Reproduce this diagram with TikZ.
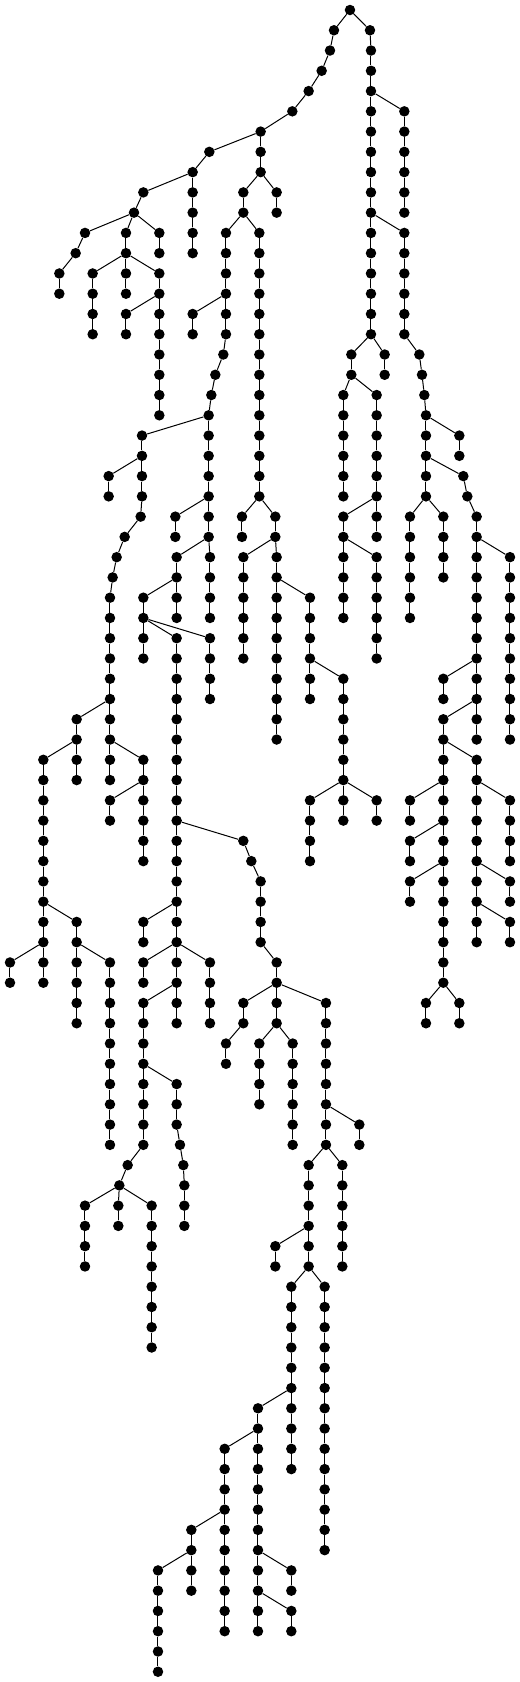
\documentclass[tikz,border=0pt]{standalone}
\tikzset{
  dot/.style={circle,fill=black,draw=none,inner sep=0pt,minimum size=10.5pt},
  edge/.style={line width=1pt,black}
}
\newcommand\mkchain[3]{%
  \foreach \k in {#2,...,#3}{\node[dot] (n#1-\k) at (#1,\k) {};}%
  \ifnum#2<#3\relax
    \pgfmathtruncatemacro\chainend{#3-1}%
    \foreach \k in {#2,...,\chainend}{\pgfmathtruncatemacro\kn{\k+1}\draw[edge] (n#1-\k) -- (n#1-\kn);}%
  \fi}
\newcommand\mksub[4]{%
  \mkchain{#2}{#3}{#4}%
  \pgfmathtruncatemacro\subpl{#3-1}%
  \draw[edge] (n#1-\subpl) -- (n#2-#3);}
\begin{document}
\begin{tikzpicture}[x=0.333333pt,y=-20.265pt]
\fill[white] (0,-0.49346) rectangle (1560,82.5068);
\useasboundingbox (0,-0.49346) rectangle (1560,82.5068);
% top and left part
\mkchain{1050}{0}{0}
\mksub{1050}{1002}{1}{1}
\mksub{1002}{990}{2}{2}
\mksub{990}{965}{3}{3}
\mksub{965}{926}{4}{4}
\mksub{926}{877}{5}{5}
\mksub{877}{782}{6}{8}
\mksub{782}{628}{7}{7}
\mksub{628}{578}{8}{12}
\mksub{578}{430}{9}{9}
\mksub{430}{402}{10}{10}
\mksub{402}{255}{11}{11}
\mksub{255}{227}{12}{12}
\mksub{227}{178}{13}{14}
\mksub{402}{378}{11}{14}
\mksub{378}{278}{13}{16}
\mksub{378}{478}{13}{20}
\mksub{478}{378}{15}{16}
\mksub{402}{478}{11}{12}
\mksub{782}{730}{9}{10}
\mksub{782}{830}{9}{10}
\mksub{730}{678}{11}{16}
\mksub{678}{578}{15}{16}
\mksub{678}{670}{17}{17}
\mksub{670}{646}{18}{18}
\mksub{646}{634}{19}{19}
\mksub{634}{626}{20}{26}
\mksub{626}{426}{21}{24}
\mksub{426}{326}{23}{24}
\mksub{426}{422}{25}{25}
\mksub{422}{374}{26}{26}
\mksub{374}{350}{27}{27}
\mksub{350}{338}{28}{28}
\mksub{338}{330}{29}{38}
\mksub{330}{230}{35}{38}
\mksub{230}{130}{37}{48}
\mksub{130}{230}{45}{50}
\mksub{230}{330}{47}{56}
\mksub{130}{30}{47}{48}
\mksub{330}{430}{37}{42}
\mksub{430}{330}{39}{40}
\mksub{626}{526}{25}{26}
\mksub{626}{530}{27}{30}
\mksub{626}{630}{27}{30}
\mksub{530}{430}{29}{32}
\mksub{430}{530}{31}{50}
\mksub{430}{630}{31}{34}
\mksub{530}{730}{41}{41}
\mksub{730}{754}{42}{42}
\mksub{754}{782}{43}{46}
\mksub{782}{830}{47}{50}
\mksub{830}{730}{49}{50}
\mksub{730}{678}{51}{52}
\mksub{830}{778}{51}{54}
\mksub{830}{878}{51}{56}
\mksub{830}{978}{49}{56}
\mksub{978}{1078}{55}{56}
\mksub{978}{926}{57}{62}
\mksub{978}{1027}{57}{62}
\mksub{926}{826}{61}{62}
\mksub{926}{874}{63}{72}
\mksub{926}{974}{63}{76}
\mksub{874}{774}{69}{80}
\mksub{774}{674}{71}{80}
\mksub{674}{574}{75}{78}
\mksub{574}{474}{77}{82}
\mksub{774}{874}{77}{78}
\mksub{774}{874}{79}{80}
\mksub{530}{430}{45}{46}
\mksub{530}{430}{47}{48}
\mksub{530}{630}{47}{50}
\mksub{530}{430}{49}{56}
\mksub{430}{530}{53}{55}
\mksub{530}{540}{56}{56}
\mksub{540}{550}{57}{57}
\mksub{550}{553}{58}{60}
\mksub{430}{383}{57}{57}
\mksub{383}{358}{58}{58}
\mksub{358}{255}{59}{62}
\mksub{358}{355}{59}{60}
\mksub{358}{455}{59}{66}
\mksub{730}{778}{11}{24}
\mksub{778}{726}{25}{26}
\mksub{778}{826}{25}{26}
\mksub{826}{730}{27}{32}
\mksub{826}{830}{27}{36}
\mksub{830}{930}{29}{34}
\mksub{930}{1030}{33}{40}
\mksub{1030}{930}{39}{42}
\mksub{1030}{1130}{39}{40}
% right part
\mksub{1050}{1110}{1}{1}
\mksub{1110}{1113}{2}{16}
\mksub{1113}{1213}{5}{10}
\mksub{1113}{1213}{11}{16}
\mksub{1213}{1258}{17}{17}
\mksub{1258}{1266}{18}{18}
\mksub{1266}{1273}{19}{19}
\mksub{1273}{1278}{20}{24}
\mksub{1278}{1378}{21}{22}
\mksub{1278}{1390}{23}{23}
\mksub{1390}{1402}{24}{24}
\mksub{1402}{1430}{25}{36}
\mksub{1430}{1530}{27}{36}
\mksub{1430}{1330}{33}{34}
\mksub{1430}{1330}{35}{48}
\mksub{1330}{1430}{37}{46}
\mksub{1430}{1530}{39}{42}
\mksub{1430}{1530}{43}{44}
\mksub{1430}{1530}{45}{46}
\mksub{1330}{1230}{39}{40}
\mksub{1330}{1230}{41}{42}
\mksub{1330}{1230}{43}{44}
\mksub{1330}{1278}{49}{50}
\mksub{1330}{1378}{49}{50}
\mksub{1278}{1230}{25}{30}
\mksub{1278}{1330}{25}{28}
\mksub{1113}{1054}{17}{18}
\mksub{1054}{1030}{19}{24}
\mksub{1054}{1130}{19}{26}
\mksub{1130}{1030}{25}{30}
\mksub{1030}{1130}{27}{32}
\mksub{1113}{1154}{17}{18}
\end{tikzpicture}
\end{document}
